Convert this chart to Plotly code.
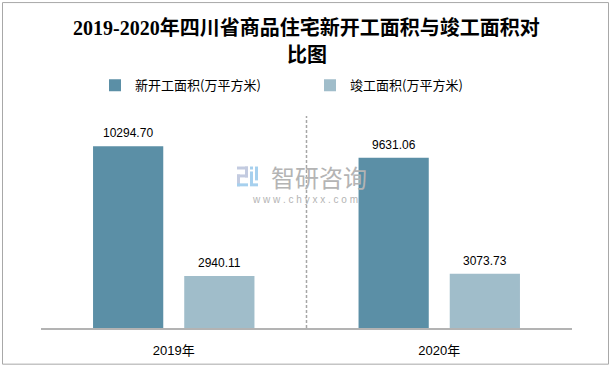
import plotly.graph_objects as go

categories = ["2019年", "2020年"]
series_names = ["新开工面积(万平方米)", "竣工面积(万平方米)"]
new_start = [10294.70, 9631.06]
completed = [2940.11, 3073.73]
colors = ["#5B8FA6", "#A0BDCA"]

W, H = 612, 370
ML, MR, MT, MB = 41, 40, 116, 40
PW, PH = W - ML - MR, H - MT - MB


def px_x(x):
    return (x - ML) / PW


def px_y(y):
    return (H - MB - y) / PH


fig = go.Figure()
for name, vals, col in zip(series_names, [new_start, completed], colors):
    fig.add_trace(go.Bar(
        x=categories, y=vals, name=name,
        marker=dict(color=col, line=dict(width=0)),
        hoverinfo="x+y",
    ))

# data labels
slot = PW / len(categories) * (1 - 0.313) / 2
for i, vals in enumerate([new_start, completed]):
    shift = (i - 0.5) * slot
    for c, v in zip(categories, vals):
        fig.add_annotation(
            x=c, y=v, xref="x", yref="y", text=f"{v:.2f}", showarrow=False,
            xshift=shift, yshift=13, yanchor="middle",
            font=dict(family="Liberation Sans, Arial", size=12, color="#000000"),
        )

# title
title_font = dict(family="Liberation Serif, 'Noto Sans CJK SC'", size=20, color="#000000")
fig.add_annotation(x=0.5, xref="paper", y=px_y(27), yref="paper",
                   text="<b>2019-2020年四川省商品住宅新开工面积与竣工面积对</b>",
                   showarrow=False, yanchor="middle", font=title_font, xanchor="center")
fig.add_annotation(x=0.5, xref="paper", y=px_y(54), yref="paper",
                   text="<b>比图</b>", showarrow=False, yanchor="middle",
                   font=title_font, xanchor="center")

# watermark
fig.add_annotation(x=px_x(319), xref="paper", y=px_y(177), yref="paper",
                   text="智研咨询", showarrow=False, yanchor="middle",
                   font=dict(family="'Noto Sans CJK SC'", size=24, color="#b4b4b4"))
fig.add_annotation(x=px_x(305), xref="paper", y=px_y(200), yref="paper",
                   text="w w w . c h y x x . c o m", showarrow=False, yanchor="middle",
                   font=dict(family="Liberation Sans, Arial", size=10, color="#b4b4b4"))
logo_rects = [
    (237, 167, 248, 170, "#c3cbe0"),
    (245, 167, 248, 178, "#c3cbe0"),
    (237, 175, 248, 178, "#c3cbe0"),
    (237, 175, 240, 187, "#c3cbe0"),
    (237, 184, 248, 187, "#a6d0ee"),
    (250, 167, 253, 170, "#a6d0ee"),
    (250, 172, 253, 187, "#a6d0ee"),
    (253, 184, 258, 187, "#a6d0ee"),
    (255, 167, 258, 181, "#a6d0ee"),
]
for x0, y0, x1, y1, c in logo_rects:
    fig.add_shape(type="rect", xref="paper", yref="paper",
                  x0=px_x(x0), x1=px_x(x1), y0=px_y(y0), y1=px_y(y1),
                  fillcolor=c, line=dict(width=0), layer="below")

# dashed separator between categories
fig.add_shape(type="line", xref="x", yref="paper", x0=0.5, x1=0.5, y0=0, y1=1,
              line=dict(color="#a6a6a6", width=1.5, dash="3px,2px"))

# outer border
fig.add_shape(type="rect", xref="paper", yref="paper",
              x0=px_x(2.5), x1=px_x(608.5), y0=px_y(366.5), y1=px_y(1.5),
              line=dict(color="#a8a8a8", width=1), fillcolor="rgba(0,0,0,0)")

fig.update_layout(
    width=W, height=H,
    margin=dict(l=ML, r=MR, t=MT, b=MB, pad=0),
    paper_bgcolor="#ffffff", plot_bgcolor="#ffffff",
    barmode="group", bargap=0.313, bargroupgap=0.23,
    showlegend=True,
    legend=dict(orientation="h", x=px_x(95), xanchor="left", y=px_y(85), yanchor="middle",
                yref="paper", xref="paper",
                font=dict(family="'Noto Sans CJK SC', Liberation Sans", size=13, color="#000000"),
                entrywidth=170, entrywidthmode="pixels", itemwidth=30,
                bgcolor="rgba(0,0,0,0)", tracegroupgap=0),
    font=dict(family="Liberation Sans, 'Noto Sans CJK SC'", color="#000000"),
)
fig.update_xaxes(showline=True, linecolor="#b3b3b3", linewidth=1.5, ticks="",
                 showgrid=False, zeroline=False, ticklabelstandoff=10,
                 tickfont=dict(family="Liberation Sans, 'Noto Sans CJK SC'", size=13, color="#000000"),
                 fixedrange=True)
fig.update_yaxes(range=[0, 12000], showticklabels=False, showgrid=False, zeroline=False,
                 showline=False, ticks="", fixedrange=True)

fig.write_html("out.html", config={"displayModeBar": False},
               post_script="document.body.style.margin='0';document.body.style.overflow='hidden';")
